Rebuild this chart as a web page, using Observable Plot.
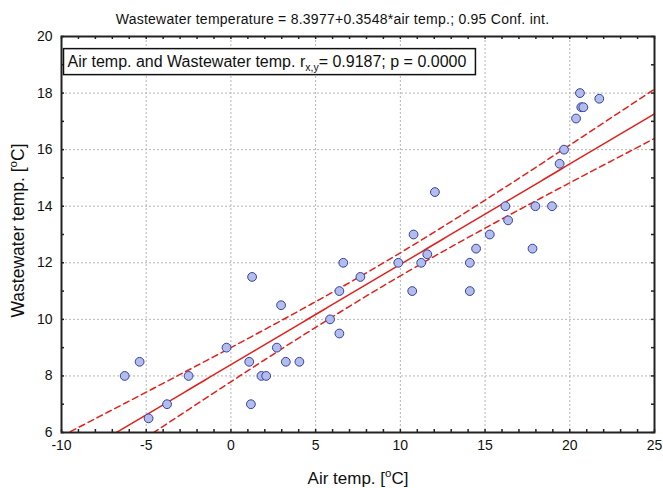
<!DOCTYPE html>
<html><head><meta charset="utf-8">
<script src="https://cdn.jsdelivr.net/npm/d3@7"></script>
<script src="https://cdn.jsdelivr.net/npm/@observablehq/plot@0.6"></script>
<style>
body{margin:0;background:#fff}
svg{font-family:Arial,"Liberation Sans",sans-serif}
</style>
</head><body><div id="chart"></div>
<script>
// Data
const airTemp   = [-6.27,-5.39,-4.86,-3.77,-2.50,-0.26,1.08,1.25,1.18,1.80,2.08,2.71,2.96,3.24,4.04,5.85,6.40,6.40,6.63,7.64,9.88,10.70,10.78,11.23,11.59,12.04,14.10,14.10,14.47,15.28,16.20,16.36,17.80,17.97,18.95,19.40,19.66,20.37,20.60,20.68,20.80,21.74];
const wasteTemp = [8.0,8.5,6.5,7.0,8.0,9.0,8.5,11.5,7.0,8.0,8.0,9.0,10.5,8.5,8.5,10.0,9.5,11.0,12.0,11.5,12.0,11.0,13.0,12.0,12.3,14.5,12.0,11.0,12.5,13.0,14.0,13.5,12.5,14.0,14.0,15.5,16.0,17.1,18.0,17.5,17.5,17.8];
const intercept = 8.3977;
const slope = 0.3548;
const tCrit = 2.021; // t(0.975, n-2)
const xTicks = [-10,-5,0,5,10,15,20,25];
const yTicks = [6,8,10,12,14,16,18,20];
const xMinor = d3.range(-10, 26, 1);
const yMinor = d3.range(6, 21, 1);
const titleText = "Wastewater temperature = 8.3977+0.3548*air temp.; 0.95 Conf. int.";
const legendParts = ["Air temp. and Wastewater temp. r", "x,y", "= 0.9187; p = 0.0000"];
const xLabelParts = ["Air temp. [", "o", "C]"];
const yLabelParts = ["Wastewater temp. [", "o", "C]"];

const points = airTemp.map((x, i) => ({x, y: wasteTemp[i]}));
const n = points.length;
const xMean = d3.mean(airTemp);
const sxx = d3.sum(airTemp, x => (x - xMean) ** 2);
const sse = d3.sum(points, p => (p.y - (intercept + slope * p.x)) ** 2);
const s = Math.sqrt(sse / (n - 2));
const grid = d3.range(-10, 25.001, 0.25);
const fit = grid.map(x => {
  const yhat = intercept + slope * x;
  const h = tCrit * s * Math.sqrt(1 / n + (x - xMean) ** 2 / sxx);
  return {x, yhat, lo: yhat - h, hi: yhat + h};
});

const W = 663, H = 488, mL = 61, mR = 9, mT = 36, mB = 56;
const fw = W - mL - mR, fh = H - mT - mB, tk = 3;
const red = "#e3211c";
const tickStyle = {stroke: "#222", strokeWidth: 1.5};
const chart = Plot.plot({
  width: W, height: H,
  marginLeft: mL, marginRight: mR, marginTop: mT, marginBottom: mB,
  x: {domain: [-10, 25]},
  y: {domain: [6, 20]},
  style: {fontFamily: "Arial, 'Liberation Sans', sans-serif", color: "#111"},
  marks: [
    Plot.gridX(xTicks.slice(1, -1), {stroke: "#b5b5b5", strokeOpacity: 1, strokeDasharray: "2,2"}),
    Plot.gridY(yTicks.slice(1, -1), {stroke: "#b5b5b5", strokeOpacity: 1, strokeDasharray: "2,2"}),
    Plot.axisX(xTicks, {tickSize: 0, tickPadding: 8, fontSize: 14, label: null, tickFormat: d => String(d)}),
    Plot.axisY(yTicks, {tickSize: 0, tickPadding: 9, fontSize: 14, label: null, tickFormat: d => String(d)}),
    Plot.tickX(xMinor, {x: d => d, insetTop: fh - tk, ...tickStyle}),
    Plot.tickX(xMinor, {x: d => d, insetBottom: fh - tk, ...tickStyle}),
    Plot.tickY(yMinor, {y: d => d, insetRight: fw - tk, ...tickStyle}),
    Plot.tickY(yMinor, {y: d => d, insetLeft: fw - tk, ...tickStyle}),
    Plot.line(fit, {x: "x", y: "hi", stroke: red, strokeWidth: 1.5, strokeDasharray: "6,4", clip: true}),
    Plot.line(fit, {x: "x", y: "lo", stroke: red, strokeWidth: 1.5, strokeDasharray: "6,4", clip: true}),
    Plot.line(fit, {x: "x", y: "yhat", stroke: red, strokeWidth: 1.5, clip: true}),
    Plot.dot(points, {x: "x", y: "y", r: 4.4, fill: "#b3bdea", stroke: "#3540a8", strokeWidth: 1}),
    Plot.frame({stroke: "#222", strokeWidth: 2}),
    Plot.text([titleText], {frameAnchor: "top", lineAnchor: "middle", dx: -25.5, dy: -16.5, fontSize: 14, fill: "#111"}),
    Plot.text(["LEGEND"], {frameAnchor: "top-left", lineAnchor: "middle", textAnchor: "start", dx: 6, dy: 25, fontSize: 16, fill: "#111"}),
    Plot.text(["XLABEL"], {frameAnchor: "bottom", lineAnchor: "middle", dy: 46.5, fontSize: 17, fill: "#111"}),
    Plot.text(["YLABEL"], {frameAnchor: "left", lineAnchor: "middle", textAnchor: "middle", dx: -43, dy: -4, rotate: -90, fontSize: 17.5, fill: "#111"})
  ]
});
document.getElementById("chart").append(chart);

function rich(textEl, parts, mode) {
  const t = d3.select(textEl);
  t.text(null);
  t.append("tspan").text(parts[0]);
  if (mode === "sub") {
    t.append("tspan").attr("font-size", "10.5px").attr("dy", "4").text(parts[1]);
    t.append("tspan").attr("dy", "-4").text(parts[2]);
  } else {
    t.append("tspan").attr("font-size", "11.5px").attr("dy", "-7").text(parts[1]);
    t.append("tspan").attr("dy", "7").text(parts[2]);
  }
}
const svg = d3.select(chart);
svg.selectAll("text").each(function() {
  const c = this.textContent;
  if (c === titleText) {
    this.setAttribute("letter-spacing", "0.25px");
  } else if (c === "LEGEND") {
    rich(this, legendParts, "sub");
    const b = this.getBBox();
    d3.select(this.parentNode).insert("rect", "text")
      .attr("transform", this.getAttribute("transform"))
      .attr("x", b.x - 4).attr("y", b.y - 4).attr("width", b.width + 13).attr("height", b.height + 6)
      .attr("fill", "white").attr("stroke", "#111").attr("stroke-width", 1.5);
  } else if (c === "XLABEL") {
    rich(this, xLabelParts, "sup");
  } else if (c === "YLABEL") {
    rich(this, yLabelParts, "sup");
  }
});
</script>
</body></html>
